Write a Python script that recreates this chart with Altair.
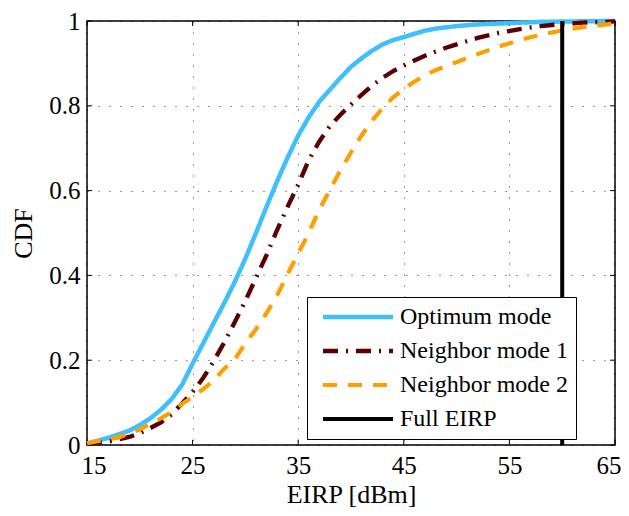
import altair as alt
import pandas as pd

# ---- data ----
series_names = ["Optimum mode", "Neighbor mode 1", "Neighbor mode 2", "Full EIRP"]

x_opt = [15, 16, 17, 18, 19, 20, 21, 22, 23, 24, 25, 26, 27, 28, 29, 30, 31, 32, 33, 34, 35,
         36, 37, 38, 39, 40, 41, 42, 43, 44, 45, 46, 47, 48, 50, 52, 55, 58, 61, 65]
y_opt = [0.004, 0.010, 0.017, 0.025, 0.034, 0.047, 0.063, 0.083, 0.108, 0.142, 0.192, 0.240,
         0.288, 0.335, 0.385, 0.440, 0.500, 0.562, 0.622, 0.678, 0.730, 0.773, 0.810, 0.838,
         0.866, 0.892, 0.912, 0.930, 0.945, 0.955, 0.962, 0.970, 0.977, 0.982, 0.988, 0.992,
         0.995, 0.998, 0.999, 1.0]

x_nb1 = [15, 16, 17, 18, 19, 20, 21, 22, 23, 24, 25, 26, 27, 28, 29, 30, 31, 32, 33, 34, 35,
         36, 37, 38, 39, 40, 41, 42, 43, 44, 45, 46, 47, 48, 49, 50, 52, 54, 56, 58, 60, 62, 65]
y_nb1 = [0.002, 0.005, 0.008, 0.013, 0.019, 0.028, 0.040, 0.053, 0.072, 0.098, 0.125, 0.158,
         0.198, 0.242, 0.290, 0.340, 0.394, 0.448, 0.507, 0.562, 0.614, 0.672, 0.716, 0.752,
         0.779, 0.803, 0.826, 0.848, 0.866, 0.882, 0.895, 0.907, 0.918, 0.928, 0.937, 0.945,
         0.960, 0.972, 0.981, 0.988, 0.993, 0.996, 0.999]

x_nb2 = [15, 16, 17, 18, 19, 20, 21, 22, 23, 24, 25, 26, 27, 28, 29, 30, 31, 32, 33, 34, 35,
         36, 37, 38, 39, 40, 41, 42, 43, 44, 45, 46, 47, 48, 50, 52, 54, 56, 58, 60, 62, 65]
y_nb2 = [0.004, 0.009, 0.013, 0.018, 0.027, 0.037, 0.050, 0.063, 0.078, 0.097, 0.113, 0.132,
         0.152, 0.180, 0.202, 0.240, 0.273, 0.311, 0.353, 0.403, 0.452, 0.500, 0.555, 0.602,
         0.648, 0.690, 0.730, 0.765, 0.795, 0.820, 0.840, 0.857, 0.872, 0.884, 0.903, 0.922,
         0.940, 0.955, 0.968, 0.978, 0.986, 0.994]

x_full = [60, 60]
y_full = [0, 1]

x_ticks = [15, 25, 35, 45, 55, 65]
y_ticks = [0, 0.2, 0.4, 0.6, 0.8, 1]

colors = ["#40BFFF", "#5A0000", "#FF9E00", "#000000"]
dashes = [[1, 0], [15, 8, 2, 8], [14, 11], [1, 0]]
widths = [4.5, 4, 4, 5]

# ---- build table ----
rows = []
for name, xs, ys in zip(series_names, [x_opt, x_nb1, x_nb2, x_full], [y_opt, y_nb1, y_nb2, y_full]):
    for i, (a, b) in enumerate(zip(xs, ys)):
        rows.append({"series": name, "eirp": a, "cdf": b, "idx": i})
df = pd.DataFrame(rows)
xt_df = pd.DataFrame({"xt": x_ticks})
yt_df = pd.DataFrame({"yt": y_ticks})

W, H = 528, 424
TICK = 5
FONT = "'Liberation Serif', 'Times New Roman', Times, serif"

xscale = alt.Scale(domain=[15, 65], nice=False, zero=False)
yscale = alt.Scale(domain=[0, 1], nice=False)

common_axis = dict(grid=True, ticks=False, tickSize=0, domain=False,
                   labelFontSize=25, titleFontSize=26, labelFont=FONT, titleFont=FONT,
                   gridColor="#000000", gridDash=[1, 10], gridWidth=1, gridOpacity=0.8,
                   labelColor="black", titleColor="black", titleFontWeight="normal")
xaxis = alt.Axis(values=x_ticks, labelPadding=8, titlePadding=3,
                 labelFlush=True, labelFlushOffset=6, **common_axis)
yaxis = alt.Axis(values=y_ticks, format="~g", labelPadding=7, titlePadding=12,
                 labelFlush=False, **common_axis)

legend_kw = dict(title=None, orient="none", legendX=220, legendY=276,
                 symbolType="M-5,0H5", symbolSize=196,
                 symbolOffset=31, labelOffset=30,
                 labelFontSize=24, labelFont=FONT, labelLimit=400,
                 labelColor="black",
                 rowPadding=10, padding=8,
                 fillColor="white", strokeColor="black")

lines = alt.Chart(df).mark_line(strokeCap="butt").encode(
    x=alt.X("eirp:Q", scale=xscale, axis=xaxis, title="EIRP [dBm]"),
    y=alt.Y("cdf:Q", scale=yscale, axis=yaxis, title="CDF"),
    color=alt.Color("series:N", scale=alt.Scale(domain=series_names, range=colors),
                    legend=alt.Legend(**legend_kw)),
    strokeDash=alt.StrokeDash("series:N", scale=alt.Scale(domain=series_names, range=dashes),
                              legend=alt.Legend(**legend_kw)),
    strokeWidth=alt.StrokeWidth("series:N", scale=alt.Scale(domain=series_names, range=widths),
                                legend=alt.Legend(**legend_kw)),
    order=alt.Order("idx:Q"),
    detail="series:N",
)

tick_style = dict(color="black", strokeWidth=1)
bottom_ticks = alt.Chart(xt_df).mark_rule(**tick_style).encode(
    x=alt.X("xt:Q", scale=xscale, axis=xaxis, title="EIRP [dBm]"),
    y=alt.value(H), y2=alt.value(H - TICK))
top_ticks = alt.Chart(xt_df).mark_rule(**tick_style).encode(
    x=alt.X("xt:Q", scale=xscale, axis=xaxis, title="EIRP [dBm]"),
    y=alt.value(0), y2=alt.value(TICK))
left_ticks = alt.Chart(yt_df).mark_rule(**tick_style).encode(
    y=alt.Y("yt:Q", scale=yscale, axis=yaxis, title="CDF"),
    x=alt.value(0), x2=alt.value(TICK))
right_ticks = alt.Chart(yt_df).mark_rule(**tick_style).encode(
    y=alt.Y("yt:Q", scale=yscale, axis=yaxis, title="CDF"),
    x=alt.value(W), x2=alt.value(W - TICK))

chart = alt.layer(bottom_ticks, top_ticks, left_ticks, right_ticks, lines).properties(
    width=W, height=H,
    autosize=alt.AutoSizeParams(type="none"),
    padding={"left": 79, "top": 13, "right": 6, "bottom": 63},
).configure(font=FONT).configure_view(stroke="black", strokeWidth=1.5)

chart.save("out.html", embed_options={"renderer": "svg", "actions": False})
